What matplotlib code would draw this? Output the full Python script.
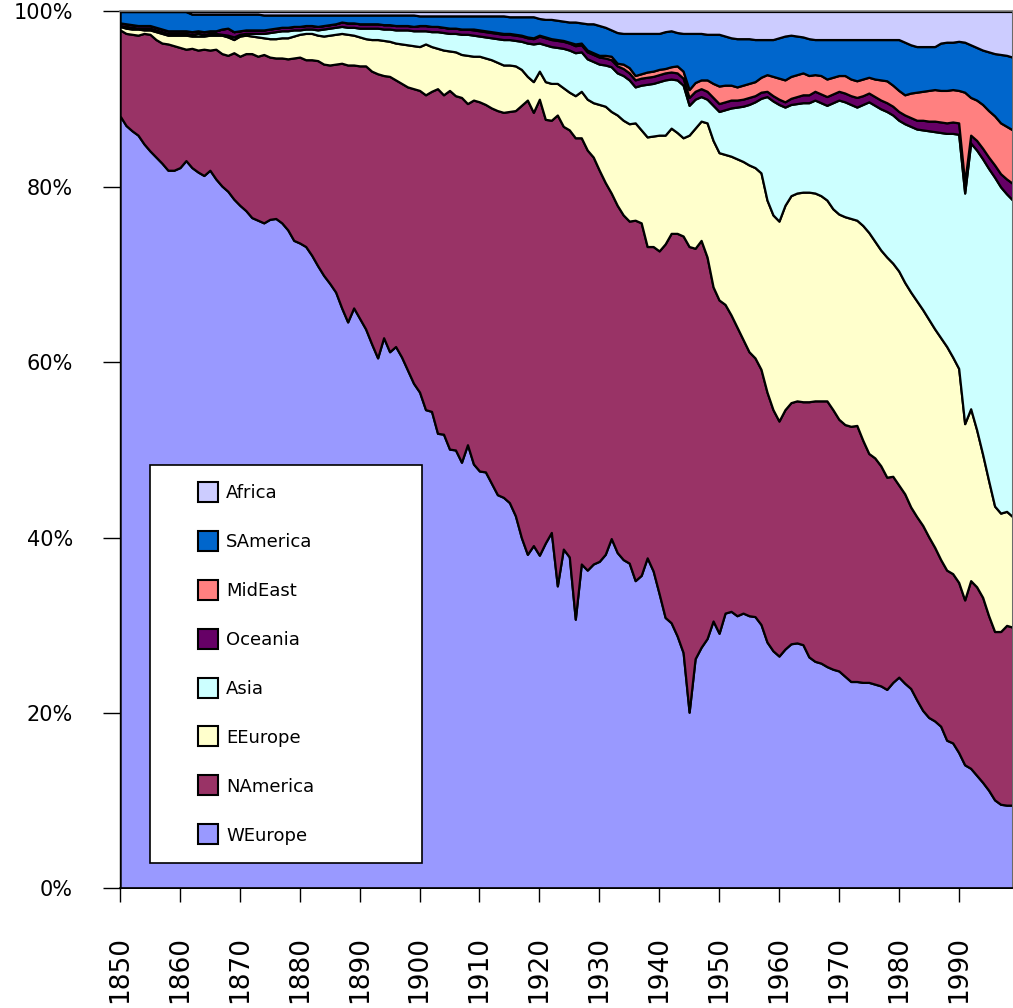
import numpy as np
import matplotlib
matplotlib.use("Agg")
import matplotlib.pyplot as plt
from matplotlib.patches import Rectangle
from matplotlib.legend_handler import HandlerBase

# Years on the category axis
years = list(range(1850, 2000))

regions = ["WEurope", "NAmerica", "EEurope", "Asia", "Oceania", "MidEast", "SAmerica", "Africa"]
colors = ["#9999FF", "#993366", "#FFFFCC", "#CCFFFF", "#660066", "#FF8080", "#0066CC", "#CCCCFF"]

# Share per region (%), one value per year 1850-1999
weurope = [
    88.1, 87.0, 86.4, 85.9, 84.9, 84.1, 83.4, 82.7, 81.9, 81.9,
    82.2, 83.0, 82.2, 81.7, 81.3, 81.9, 80.9, 80.1, 79.5, 78.6,
    77.9, 77.3, 76.5, 76.2, 75.9, 76.3, 76.4, 75.9, 75.1, 73.9,
    73.6, 73.2, 72.2, 71.0, 69.9, 69.0, 68.0, 66.2, 64.6, 66.2,
    65.0, 63.8, 62.1, 60.5, 62.8, 61.2, 61.8, 60.6, 59.1, 57.6,
    56.6, 54.6, 54.4, 51.9, 51.8, 50.1, 50.0, 48.6, 50.6, 48.4,
    47.6, 47.5, 46.2, 44.9, 44.6, 44.0, 42.5, 40.0, 38.1, 39.1,
    38.0, 39.4, 40.6, 34.5, 38.7, 37.8, 30.7, 37.0, 36.3, 37.0,
    37.3, 38.1, 39.9, 38.3, 37.5, 37.1, 35.1, 35.7, 37.7, 36.2,
    33.6, 30.9, 30.3, 28.8, 26.9, 20.1, 26.2, 27.5, 28.5, 30.5,
    29.1, 31.4, 31.6, 31.1, 31.4, 31.1, 31.0, 30.1, 28.1, 27.1,
    26.5, 27.3, 27.9, 28.0, 27.8, 26.4, 25.9, 25.7, 25.3, 25.0,
    24.8, 24.2, 23.6, 23.6, 23.5, 23.5, 23.3, 23.1, 22.7, 23.5,
    24.1, 23.4, 22.8, 21.5, 20.3, 19.5, 19.1, 18.5, 16.9, 16.6,
    15.5, 14.1, 13.7, 12.9, 12.1, 11.2, 10.1, 9.6, 9.5, 9.5,
]
namerica = [
    9.8, 10.5, 11.0, 11.4, 12.6, 13.3, 13.4, 13.7, 14.4, 14.2,
    13.7, 12.7, 13.6, 13.9, 14.4, 13.7, 14.8, 15.1, 15.5, 16.7,
    17.0, 17.9, 18.7, 18.7, 19.2, 18.5, 18.3, 18.8, 19.5, 20.8,
    21.2, 21.3, 22.3, 23.4, 24.1, 24.9, 26.0, 27.9, 29.3, 27.7,
    28.8, 30.0, 31.1, 32.4, 29.9, 31.4, 30.4, 31.2, 32.3, 33.6,
    34.4, 35.9, 36.5, 39.3, 38.7, 40.9, 40.4, 41.6, 38.9, 41.5,
    42.1, 41.9, 42.8, 43.8, 43.9, 44.6, 46.2, 49.3, 51.8, 49.4,
    52.0, 48.3, 47.0, 53.7, 48.2, 48.7, 54.9, 48.6, 47.9, 46.4,
    44.6, 42.4, 39.4, 39.6, 39.3, 39.0, 41.1, 40.2, 35.5, 37.0,
    39.1, 42.6, 44.4, 45.9, 47.5, 53.1, 46.8, 46.4, 43.5, 38.1,
    38.0, 35.2, 33.8, 32.9, 31.2, 30.1, 29.5, 29.1, 28.5, 27.5,
    26.8, 27.3, 27.5, 27.6, 27.7, 29.1, 29.7, 29.9, 30.3, 29.6,
    28.7, 28.7, 29.1, 29.2, 27.6, 26.1, 25.8, 25.1, 24.2, 23.5,
    21.9, 21.6, 20.7, 20.9, 21.1, 20.6, 19.8, 19.0, 19.4, 19.3,
    19.4, 18.8, 21.4, 21.5, 21.1, 19.9, 19.2, 19.7, 20.5, 20.3,
]
eeurope = [
    0.4, 0.6, 0.6, 0.7, 0.4, 0.5, 0.9, 1.1, 1.0, 1.2,
    1.4, 1.6, 1.4, 1.6, 1.5, 1.7, 1.6, 2.1, 2.1, 1.5,
    2.3, 2.1, 2.0, 2.2, 1.9, 2.1, 2.2, 2.3, 2.4, 2.5,
    2.6, 3.0, 3.0, 2.9, 3.2, 3.4, 3.4, 3.4, 3.5, 3.4,
    3.3, 3.1, 3.6, 3.9, 4.0, 4.0, 4.2, 4.5, 4.8, 4.9,
    5.0, 5.8, 5.1, 4.6, 5.1, 4.5, 5.0, 4.9, 5.5, 5.0,
    5.2, 5.3, 5.5, 5.5, 5.4, 5.3, 5.1, 4.1, 2.7, 3.5,
    3.2, 4.3, 4.2, 3.6, 4.4, 4.3, 4.8, 5.3, 5.8, 6.2,
    7.5, 8.7, 9.3, 10.3, 10.8, 11.1, 11.1, 10.6, 12.5, 12.6,
    13.2, 12.4, 12.0, 11.5, 11.2, 12.7, 13.7, 13.6, 15.3, 16.7,
    16.8, 17.1, 18.1, 19.2, 20.3, 21.3, 21.7, 22.4, 21.9, 22.2,
    22.8, 23.3, 23.6, 23.7, 23.9, 23.9, 23.7, 23.4, 22.9, 22.9,
    23.4, 23.7, 23.7, 23.4, 24.5, 25.2, 24.7, 24.6, 25.1, 24.3,
    24.4, 24.1, 24.5, 24.6, 24.6, 24.8, 24.9, 25.3, 25.5, 24.7,
    24.4, 20.1, 19.6, 17.9, 16.3, 15.4, 14.3, 13.5, 13.0, 12.6,
]
asia = [
    0.1, 0.2, 0.2, 0.1, 0.2, 0.2, 0.2, 0.2, 0.2, 0.2,
    0.2, 0.2, 0.2, 0.3, 0.2, 0.2, 0.2, 0.1, 0.2, 0.3,
    0.2, 0.2, 0.3, 0.4, 0.5, 0.7, 0.8, 0.8, 0.8, 0.7,
    0.5, 0.5, 0.5, 0.6, 0.8, 0.8, 0.8, 0.8, 0.8, 0.9,
    1.0, 1.2, 1.3, 1.3, 1.3, 1.4, 1.5, 1.6, 1.7, 1.7,
    1.8, 1.5, 1.7, 1.9, 2.0, 2.0, 2.1, 2.3, 2.4, 2.4,
    2.3, 2.4, 2.5, 2.7, 2.9, 2.9, 2.9, 3.2, 3.8, 4.3,
    3.2, 4.2, 4.2, 4.1, 4.5, 4.8, 4.9, 4.5, 4.6, 4.7,
    4.6, 4.7, 5.1, 4.8, 5.1, 5.0, 4.1, 5.1, 6.0, 6.0,
    6.1, 6.3, 5.6, 6.0, 6.0, 3.4, 3.3, 2.8, 2.7, 4.0,
    4.7, 5.1, 5.5, 5.9, 6.3, 6.9, 7.5, 8.5, 11.8, 13.0,
    13.3, 11.2, 10.4, 10.2, 10.2, 10.2, 10.6, 10.6, 10.8, 12.1,
    13.0, 13.1, 13.0, 12.9, 13.8, 14.9, 15.5, 16.1, 16.6, 16.9,
    17.2, 18.1, 18.9, 19.6, 20.5, 21.5, 22.5, 23.4, 24.3, 25.5,
    26.7, 26.3, 30.3, 31.9, 33.7, 35.6, 37.5, 37.2, 36.2, 36.1,
]
oceania = [
    0.3, 0.3, 0.3, 0.3, 0.3, 0.3, 0.3, 0.3, 0.3, 0.3,
    0.3, 0.3, 0.3, 0.3, 0.3, 0.3, 0.3, 0.6, 0.8, 0.6,
    0.4, 0.4, 0.4, 0.4, 0.4, 0.4, 0.4, 0.4, 0.4, 0.4,
    0.4, 0.4, 0.4, 0.4, 0.4, 0.4, 0.4, 0.5, 0.5, 0.5,
    0.5, 0.5, 0.5, 0.5, 0.5, 0.5, 0.5, 0.5, 0.5, 0.5,
    0.6, 0.6, 0.6, 0.6, 0.6, 0.6, 0.6, 0.6, 0.6, 0.6,
    0.6, 0.6, 0.6, 0.6, 0.6, 0.6, 0.6, 0.6, 0.6, 0.6,
    0.8, 0.8, 0.8, 0.8, 0.8, 0.8, 0.8, 0.8, 0.8, 0.8,
    0.8, 0.8, 0.8, 0.8, 0.8, 0.8, 0.8, 0.8, 0.8, 0.8,
    0.8, 0.8, 0.8, 0.8, 0.8, 0.9, 0.9, 0.9, 0.9, 0.9,
    0.9, 0.9, 0.9, 0.8, 0.8, 0.8, 0.7, 0.7, 0.6, 0.6,
    0.6, 0.6, 0.7, 0.8, 0.9, 0.9, 1.0, 1.0, 1.0, 1.0,
    1.0, 1.0, 1.0, 1.1, 1.0, 1.0, 1.0, 1.0, 1.0, 1.0,
    1.0, 1.0, 1.0, 1.0, 1.1, 1.1, 1.2, 1.2, 1.2, 1.3,
    1.3, 1.2, 0.9, 1.1, 1.2, 1.3, 1.4, 1.5, 1.7, 1.9,
]
mideast = [
    0.0, 0.0, 0.0, 0.0, 0.0, 0.0, 0.0, 0.0, 0.0, 0.0,
    0.0, 0.0, 0.0, 0.0, 0.0, 0.0, 0.0, 0.0, 0.0, 0.0,
    0.0, 0.0, 0.0, 0.0, 0.0, 0.0, 0.0, 0.0, 0.0, 0.0,
    0.0, 0.0, 0.0, 0.0, 0.0, 0.0, 0.0, 0.0, 0.0, 0.0,
    0.0, 0.0, 0.0, 0.0, 0.0, 0.0, 0.0, 0.0, 0.0, 0.0,
    0.0, 0.0, 0.0, 0.0, 0.0, 0.0, 0.0, 0.0, 0.0, 0.1,
    0.1, 0.1, 0.1, 0.1, 0.1, 0.1, 0.1, 0.1, 0.1, 0.1,
    0.1, 0.1, 0.1, 0.1, 0.1, 0.1, 0.2, 0.2, 0.2, 0.2,
    0.2, 0.3, 0.4, 0.3, 0.5, 0.6, 0.5, 0.5, 0.6, 0.6,
    0.6, 0.5, 0.6, 0.8, 0.8, 0.9, 1.0, 1.0, 1.3, 1.6,
    2.0, 1.9, 1.7, 1.5, 1.6, 1.6, 1.6, 1.7, 1.9, 2.2,
    2.4, 2.5, 2.5, 2.5, 2.5, 2.2, 1.9, 2.1, 2.0, 1.9,
    1.8, 2.0, 1.9, 1.9, 1.9, 1.8, 2.0, 2.3, 2.5, 2.4,
    2.4, 2.3, 2.8, 3.2, 3.3, 3.5, 3.6, 3.6, 3.7, 3.7,
    3.7, 10.3, 4.3, 4.6, 5.0, 5.3, 5.6, 5.8, 6.0, 6.1,
]
samerica = [
    1.3, 1.4, 1.5, 1.6, 1.6, 1.6, 1.8, 2.0, 2.2, 2.2,
    2.2, 2.2, 2.0, 1.9, 2.0, 1.9, 1.9, 1.7, 1.6, 2.0,
    1.9, 1.8, 1.8, 1.8, 1.7, 1.6, 1.5, 1.4, 1.4, 1.3,
    1.3, 1.2, 1.2, 1.3, 1.2, 1.1, 1.0, 0.8, 0.9, 0.9,
    1.0, 1.0, 1.0, 1.0, 1.1, 1.1, 1.2, 1.2, 1.2, 1.3,
    1.1, 1.1, 1.2, 1.2, 1.3, 1.4, 1.4, 1.5, 1.5, 1.5,
    1.6, 1.7, 1.8, 1.9, 2.0, 1.9, 2.0, 2.1, 2.3, 2.4,
    1.9, 2.0, 2.2, 2.2, 2.2, 2.3, 2.5, 2.3, 3.0, 3.3,
    3.4, 3.2, 3.0, 3.5, 3.5, 3.9, 4.8, 4.6, 4.4, 4.3,
    4.1, 4.2, 4.1, 3.8, 4.3, 6.4, 5.6, 5.3, 5.2, 5.6,
    5.9, 5.6, 5.4, 5.5, 5.3, 5.1, 4.8, 4.3, 4.0, 4.2,
    4.6, 5.0, 4.7, 4.4, 4.1, 4.2, 4.0, 4.1, 4.5, 4.3,
    4.1, 4.1, 4.5, 4.7, 4.5, 4.3, 4.5, 4.6, 4.7, 5.2,
    5.8, 6.0, 5.5, 5.2, 5.1, 5.0, 4.9, 5.4, 5.5, 5.4,
    5.6, 5.7, 6.0, 6.0, 6.2, 6.7, 7.1, 7.8, 8.1, 8.3,
]
africa = [
    0.0, 0.0, 0.0, 0.0, 0.0, 0.0, 0.0, 0.0, 0.0, 0.0,
    0.0, 0.0, 0.3, 0.3, 0.3, 0.3, 0.3, 0.3, 0.3, 0.3,
    0.3, 0.3, 0.3, 0.3, 0.4, 0.4, 0.4, 0.4, 0.4, 0.4,
    0.4, 0.4, 0.4, 0.4, 0.4, 0.4, 0.4, 0.4, 0.4, 0.4,
    0.4, 0.4, 0.4, 0.4, 0.4, 0.4, 0.4, 0.4, 0.4, 0.4,
    0.5, 0.5, 0.5, 0.5, 0.5, 0.5, 0.5, 0.5, 0.5, 0.5,
    0.5, 0.5, 0.5, 0.5, 0.5, 0.6, 0.6, 0.6, 0.6, 0.6,
    0.8, 0.9, 0.9, 1.0, 1.1, 1.2, 1.2, 1.3, 1.4, 1.4,
    1.6, 1.8, 2.1, 2.4, 2.5, 2.5, 2.5, 2.5, 2.5, 2.5,
    2.5, 2.3, 2.2, 2.4, 2.5, 2.5, 2.5, 2.5, 2.6, 2.6,
    2.6, 2.8, 3.0, 3.1, 3.1, 3.1, 3.2, 3.2, 3.2, 3.2,
    3.0, 2.8, 2.7, 2.8, 2.9, 3.1, 3.2, 3.2, 3.2, 3.2,
    3.2, 3.2, 3.2, 3.2, 3.2, 3.2, 3.2, 3.2, 3.2, 3.2,
    3.2, 3.5, 3.8, 4.0, 4.0, 4.0, 4.0, 3.6, 3.5, 3.5,
    3.4, 3.5, 3.8, 4.1, 4.4, 4.6, 4.8, 4.9, 5.0, 5.2,
]

# 100% stacked: normalise each year to a total of 100
shares = np.array([weurope, namerica, eeurope, asia, oceania, mideast, samerica, africa])
shares = shares / shares.sum(axis=0) * 100

fig = plt.figure(figsize=(10.13, 10.08), dpi=100)
ax = fig.add_axes([0.1185, 0.1186, 0.8811, 0.8700])

polys = ax.stackplot(years, shares, colors=colors, labels=regions,
                     edgecolor="black", linewidth=1.6)

ax.set_xlim(1850, 1999)
ax.set_ylim(0, 100)

# Axes and ticks
ax.set_xticks(list(range(1850, 2000, 10)))
ax.set_xticklabels([str(y) for y in range(1850, 2000, 10)], rotation=90, fontsize=19)
ax.tick_params(axis="x", direction="out", length=10, width=1, pad=24, colors="black")
ax.set_yticks([0, 20, 40, 60, 80, 100])
ax.set_yticklabels(["0%", "20%", "40%", "60%", "80%", "100%"], fontsize=15)
ax.tick_params(axis="y", direction="out", length=12, width=1, pad=22, colors="black")

ax.spines["left"].set_color("black")
ax.spines["left"].set_linewidth(1.0)
ax.spines["bottom"].set_color("black")
ax.spines["bottom"].set_linewidth(1.2)
for side in ["top", "right"]:
    ax.spines[side].set_color("#808080")
    ax.spines[side].set_linewidth(1.2)


# Legend: square swatch at the right end of a wide handle box
class SquareHandler(HandlerBase):
    def create_artists(self, legend, orig_handle, xdescent, ydescent,
                       width, height, fontsize, trans):
        side = 14.4
        face = orig_handle.get_facecolor()[0]
        rect = Rectangle((width - side - xdescent, (height - side) / 2 - ydescent),
                         side, side, facecolor=face, edgecolor="black",
                         linewidth=1.5, transform=trans)
        return [rect]


handles = list(polys)[::-1]
labels = regions[::-1]
leg = ax.legend(handles, labels, loc="upper left",
                bbox_to_anchor=(0.0336, 0.0, 0.3048, 0.4829), mode="expand",
                borderaxespad=0, fontsize=13, handlelength=2.77, handleheight=1.1,
                handletextpad=0.45, labelspacing=1.67, borderpad=1.0,
                fancybox=False, framealpha=1, handler_map={type(polys[0]): SquareHandler()})
leg.get_frame().set_edgecolor("black")
leg.get_frame().set_linewidth(1.2)

plt.savefig("out.png", dpi=100)
plt.close()
